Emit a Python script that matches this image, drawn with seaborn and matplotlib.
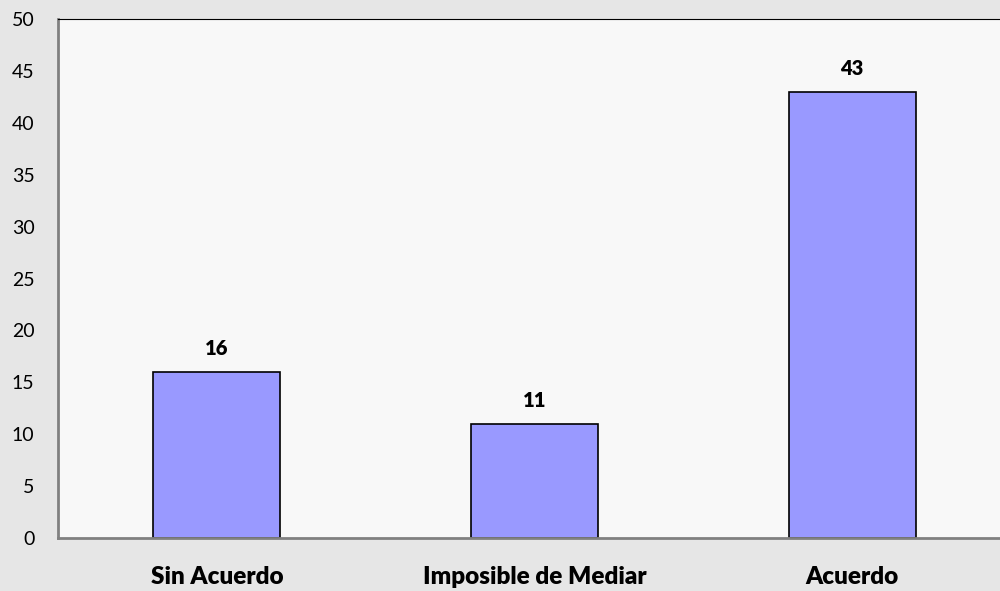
import matplotlib.pyplot as plt
import pandas as pd
import seaborn as sns

categories = ["Sin Acuerdo", "Imposible de Mediar", "Acuerdo"]
values = [16, 11, 43]

sns.set_style("white")
plt.rcParams["font.family"] = ["Lato", "DejaVu Sans"]
plt.rcParams["text.color"] = "black"
plt.rcParams["xtick.color"] = "black"
plt.rcParams["ytick.color"] = "black"

df = pd.DataFrame({"categoria": categories, "casos": values})

fig = plt.figure(figsize=(10, 5.91), dpi=100, facecolor="#e6e6e6")
ax = fig.add_axes([0.058, 0.0897, 0.953, 0.878])
ax.set_facecolor("#f8f8f8")

sns.barplot(data=df, x="categoria", y="casos", color="#9999ff",
            edgecolor="black", linewidth=1.2, width=0.4, saturation=1, ax=ax)

for i, v in enumerate(values):
    ax.annotate(str(v), (i, v), xytext=(0, 17), textcoords="offset points",
                ha="center", va="center", fontsize=14.5, fontweight="heavy")

ax.set_xlim(-0.5, 2.5)
ax.set_ylim(0, 50)
ax.set_yticks(range(0, 51, 5))
ax.tick_params(axis="y", length=0, labelsize=14, pad=17)
ax.tick_params(axis="x", length=0, labelsize=17.5, pad=20)
for lab in ax.get_xticklabels():
    lab.set_fontweight("heavy")
ax.set_xlabel("")
ax.set_ylabel("")

ax.spines["top"].set_color("black")
ax.spines["right"].set_visible(False)
for s in ["left", "bottom"]:
    ax.spines[s].set_color("#808080")
    ax.spines[s].set_linewidth(2)

fig.savefig("out.png", dpi=100, facecolor=fig.get_facecolor())
